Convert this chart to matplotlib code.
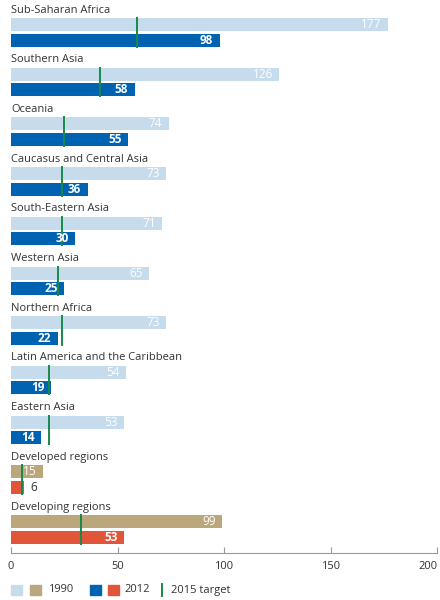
import matplotlib.pyplot as plt
import matplotlib.transforms as mtransforms
from matplotlib.patches import Rectangle
from matplotlib.lines import Line2D

regions = ['Sub-Saharan Africa', 'Southern Asia', 'Oceania', 'Caucasus and Central Asia',
           'South-Eastern Asia', 'Western Asia', 'Northern Africa',
           'Latin America and the Caribbean', 'Eastern Asia',
           'Developed regions', 'Developing regions']
v1990 = [177, 126, 74, 73, 71, 65, 73, 54, 53, 15, 99]
v2012 = [98, 58, 55, 36, 30, 25, 22, 19, 14, 6, 53]
target2015 = [59, 42, 25, 24, 24, 22, 24, 18, 18, 5, 33]
aggregate = [False] * 9 + [True, True]

light_blue = '#c6dcec'
dark_blue = '#0063b1'
tan = '#bba77c'
red = '#e1553b'
green = '#18894a'
txt = '#333333'

plt.rcParams['font.family'] = ['Open Sans', 'DejaVu Sans']

fig = plt.figure(figsize=(4.4, 6), dpi=100)
ax = fig.add_axes([11 / 440, 47 / 600, 426 / 440, 553 / 600])

unit = 49.7
ax.set_xlim(0, 200)
ax.set_ylim(553 / unit, 0)

fs = 8
bh = 13 / unit
for i, name in enumerate(regions):
    c1 = tan if aggregate[i] else light_blue
    c2 = red if aggregate[i] else dark_blue
    y1 = i + 24.5 / unit
    y2 = i + 40 / unit
    ax.text(0, i + 10 / unit, name, fontsize=fs, color=txt, va='center', ha='left')
    ax.barh(y1, v1990[i], height=bh, color=c1, left=0)
    ax.barh(y2, v2012[i], height=bh, color=c2, left=0)
    ax.text(v1990[i] - 3, y1, str(v1990[i]), fontsize=8.5, color='white',
            va='center', ha='right')
    if v2012[i] >= 10:
        ax.text(v2012[i] - 3, y2, str(v2012[i]), fontsize=8.5, color='white',
                fontweight='bold', va='center', ha='right')
    else:
        ax.text(v2012[i] + 3, y2, str(v2012[i]), fontsize=8.5, color=txt,
                va='center', ha='left')
    ax.plot([target2015[i], target2015[i]], [y1 - bh / 2 - 1 / unit, y2 + bh / 2 + 1 / unit],
            color=green, lw=1.4, solid_capstyle='butt')

for s in ['top', 'right', 'left']:
    ax.spines[s].set_visible(False)
ax.spines['bottom'].set_color('#999999')
ax.spines['bottom'].set_linewidth(0.8)
ax.set_yticks([])
ax.set_xticks([0, 50, 100, 150, 200])
ax.tick_params(axis='x', direction='in', length=4, color='#999999', labelsize=8,
               labelcolor=txt, pad=6)
last = ax.get_xticklabels()[-1]
last.set_horizontalalignment('right')
last.set_transform(last.get_transform() + mtransforms.ScaledTranslation(1 / 100, 0, fig.dpi_scale_trans))

# legend
ly = 600 - 590
def sq(x, color):
    fig.add_artist(Rectangle((x / 440, (ly - 5) / 600), 11 / 440, 10 / 600,
                             transform=fig.transFigure, color=color))

sq(11, light_blue)
sq(30, tan)
fig.text(48 / 440, ly / 600, '1990', fontsize=fs, color=txt, va='center')
sq(90, dark_blue)
sq(108, red)
fig.text(124 / 440, ly / 600, '2012', fontsize=fs, color=txt, va='center')
fig.add_artist(Line2D([162 / 440, 162 / 440], [(ly - 6) / 600, (ly + 6) / 600],
                      transform=fig.transFigure, color=green, lw=1.4))
fig.text(171 / 440, ly / 600, '2015 target', fontsize=fs, color=txt, va='center')

fig.savefig('out.png', dpi=100)
